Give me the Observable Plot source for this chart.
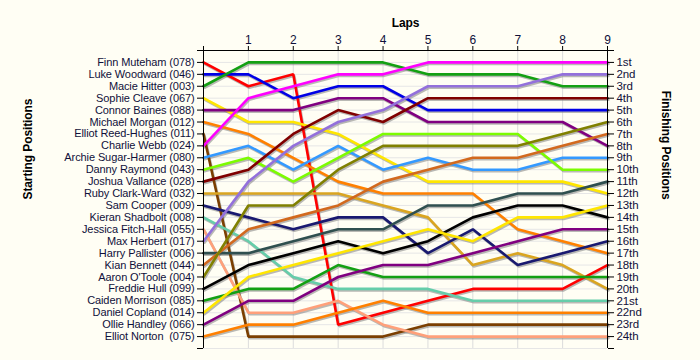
<!DOCTYPE html>
<html><head><meta charset="utf-8">
<script src="https://cdn.jsdelivr.net/npm/d3@7"></script>
<script src="https://cdn.jsdelivr.net/npm/@observablehq/plot@0.6"></script>
<style>
html,body{margin:0;padding:0;background:#fffef4;}
</style></head><body><div id="chart"></div>
<script>
const laps = [0, 1, 2, 3, 4, 5, 6, 7, 8, 9];
const lapLabels = ["", "1", "2", "3", "4", "5", "6", "7", "8", "9"];
const drivers = [
  "Finn Muteham (078)", "Luke Woodward (046)", "Macie Hitter (003)", "Sophie Cleave (067)",
  "Connor Baines (088)", "Michael Morgan (012)", "Elliot Reed-Hughes (011)", "Charlie Webb (024)",
  "Archie Sugar-Harmer (080)", "Danny Raymond (043)", "Joshua Vallance (028)", "Ruby Clark-Ward (032)",
  "Sam Cooper (009)", "Kieran Shadbolt (008)", "Jessica Fitch-Hall (055)", "Max Herbert (017)",
  "Harry Pallister (006)", "Kian Bennett (044)", "Aaron O'Toole (004)", "Freddie Hull (099)",
  "Caiden Morrison (085)", "Daniel Copland (014)", "Ollie Handley (066)", "Elliot Norton  (075)"
];
const colors = [
  "#ff0000", "#0000e6", "#13a013", "#ffe600",
  "#800080", "#ff8000", "#7b3f00", "#ff00ff",
  "#3399ff", "#7cfc00", "#800000", "#daa520",
  "#191970", "#66cdaa", "#ffa07a", "#9370db",
  "#2f4f4f", "#d2691e", "#808000", "#000000",
  "#13a013", "#ffe600", "#800080", "#ff8000"
];
// position of each driver (same order as drivers) at laps 0..9
const positions = [
  [1, 3, 2, 23, 22, 21, 20, 20, 20, 18],
  [2, 2, 4, 3, 3, 5, 5, 5, 5, 5],
  [3, 1, 1, 1, 1, 2, 2, 2, 3, 3],
  [4, 6, 6, 7, 9, 11, 11, 11, 11, 12],
  [5, 5, 5, 4, 4, 6, 6, 6, 6, 8],
  [6, 7, 9, 11, 12, 12, 12, 15, 16, 17],
  [7, 24, 24, 24, 24, 23, 23, 23, 23, 23],
  [8, 4, 3, 2, 2, 1, 1, 1, 1, 1],
  [9, 8, 10, 8, 10, 9, 10, 10, 9, 9],
  [10, 9, 11, 9, 7, 7, 7, 7, 10, 10],
  [11, 10, 7, 5, 6, 4, 4, 4, 4, 4],
  [12, 12, 12, 12, 13, 14, 18, 17, 18, 20],
  [13, 14, 15, 14, 14, 17, 15, 18, 17, 16],
  [14, 16, 19, 20, 20, 20, 21, 21, 21, 21],
  [15, 22, 22, 21, 23, 24, 24, 24, 24, 24],
  [16, 11, 8, 6, 5, 3, 3, 3, 2, 2],
  [17, 17, 16, 15, 15, 13, 13, 12, 12, 11],
  [18, 15, 14, 13, 11, 10, 9, 9, 8, 7],
  [19, 13, 13, 10, 8, 8, 8, 8, 7, 6],
  [20, 18, 17, 16, 17, 16, 14, 13, 13, 14],
  [21, 20, 20, 18, 19, 19, 19, 19, 19, 19],
  [22, 19, 18, 17, 16, 15, 16, 14, 14, 13],
  [23, 21, 21, 19, 18, 18, 17, 16, 15, 15],
  [24, 23, 23, 22, 21, 22, 22, 22, 22, 22]
];
const finishLabels = ["1st", "2nd", "3rd", "4th", "5th", "6th", "7th", "8th", "9th", "10th", "11th", "12th",
  "13th", "14th", "15th", "16th", "17th", "18th", "19th", "20th", "21st", "22nd", "23rd", "24th"];
const rowTicks = [0, 1, 2, 3, 4, 5, 6, 7, 8, 9, 10, 11, 12, 13, 14, 15, 16, 17, 18, 19, 20, 21, 22, 23, 24, 25];

const rows = [];
drivers.forEach((name, i) => laps.forEach((lap, j) => rows.push({name, lap, pos: positions[i][j], color: colors[i]})));

const chart = Plot.plot({
  width: 700, height: 360,
  marginLeft: 203, marginRight: 93, marginTop: 50, marginBottom: 12,
  style: {background: "#fffef4", fontFamily: "'Liberation Sans', Arial, sans-serif", fontSize: "11px", letterSpacing: "-0.1px"},
  x: {domain: [0, 9], axis: null},
  y: {domain: [0, 25], reverse: true, axis: null},
  color: {type: "identity"},
  marks: [
    Plot.gridX({ticks: laps, stroke: "#dcdcdc", strokeOpacity: 1}),
    Plot.gridY({ticks: rowTicks, stroke: "#e6e6e6", strokeOpacity: 1}),
    Plot.line(rows, {x: "lap", y: "pos", z: "name", stroke: "#808080", strokeOpacity: 0.55, strokeWidth: 2.6, dx: 1, dy: 1.5, strokeLinejoin: "miter", curve: "linear"}),
    Plot.line(rows, {x: "lap", y: "pos", z: "name", stroke: "color", strokeWidth: 2.6, strokeLinejoin: "miter", curve: "linear"}),
    Plot.ruleX([0, 9], {stroke: "#000"}),
    Plot.ruleY([0], {stroke: "#000"}),
    Plot.axisX({anchor: "top", ticks: laps, tickFormat: d => lapLabels[d], tickSize: 5, tickPadding: 2, label: null, stroke: "#000", fill: "#10103a", fontSize: 12}),
    Plot.axisY({anchor: "left", ticks: rowTicks, tickFormat: d => drivers[d - 1] ?? "", tickSize: 6, tickPadding: 3, label: null, stroke: "#000", fill: "#10103a"}),
    Plot.axisY({anchor: "right", ticks: rowTicks, tickFormat: d => finishLabels[d - 1] ?? "", tickSize: 6, tickPadding: 3, label: null, stroke: "#000", fill: "#10103a", fontSize: 11.5}),
    Plot.text(["Laps"], {frameAnchor: "top", dy: -32, fontWeight: "bold", fontSize: 12, fill: "#000"}),
    Plot.text(["Starting Positions"], {frameAnchor: "left", dx: -175, rotate: -90, fontWeight: "bold", fontSize: 12, fill: "#000"}),
    Plot.text(["Finishing Positions"], {frameAnchor: "right", dx: 58, rotate: 90, fontWeight: "bold", fontSize: 12, fill: "#000"})
  ]
});
document.getElementById("chart").append(chart);
</script>
</body></html>
